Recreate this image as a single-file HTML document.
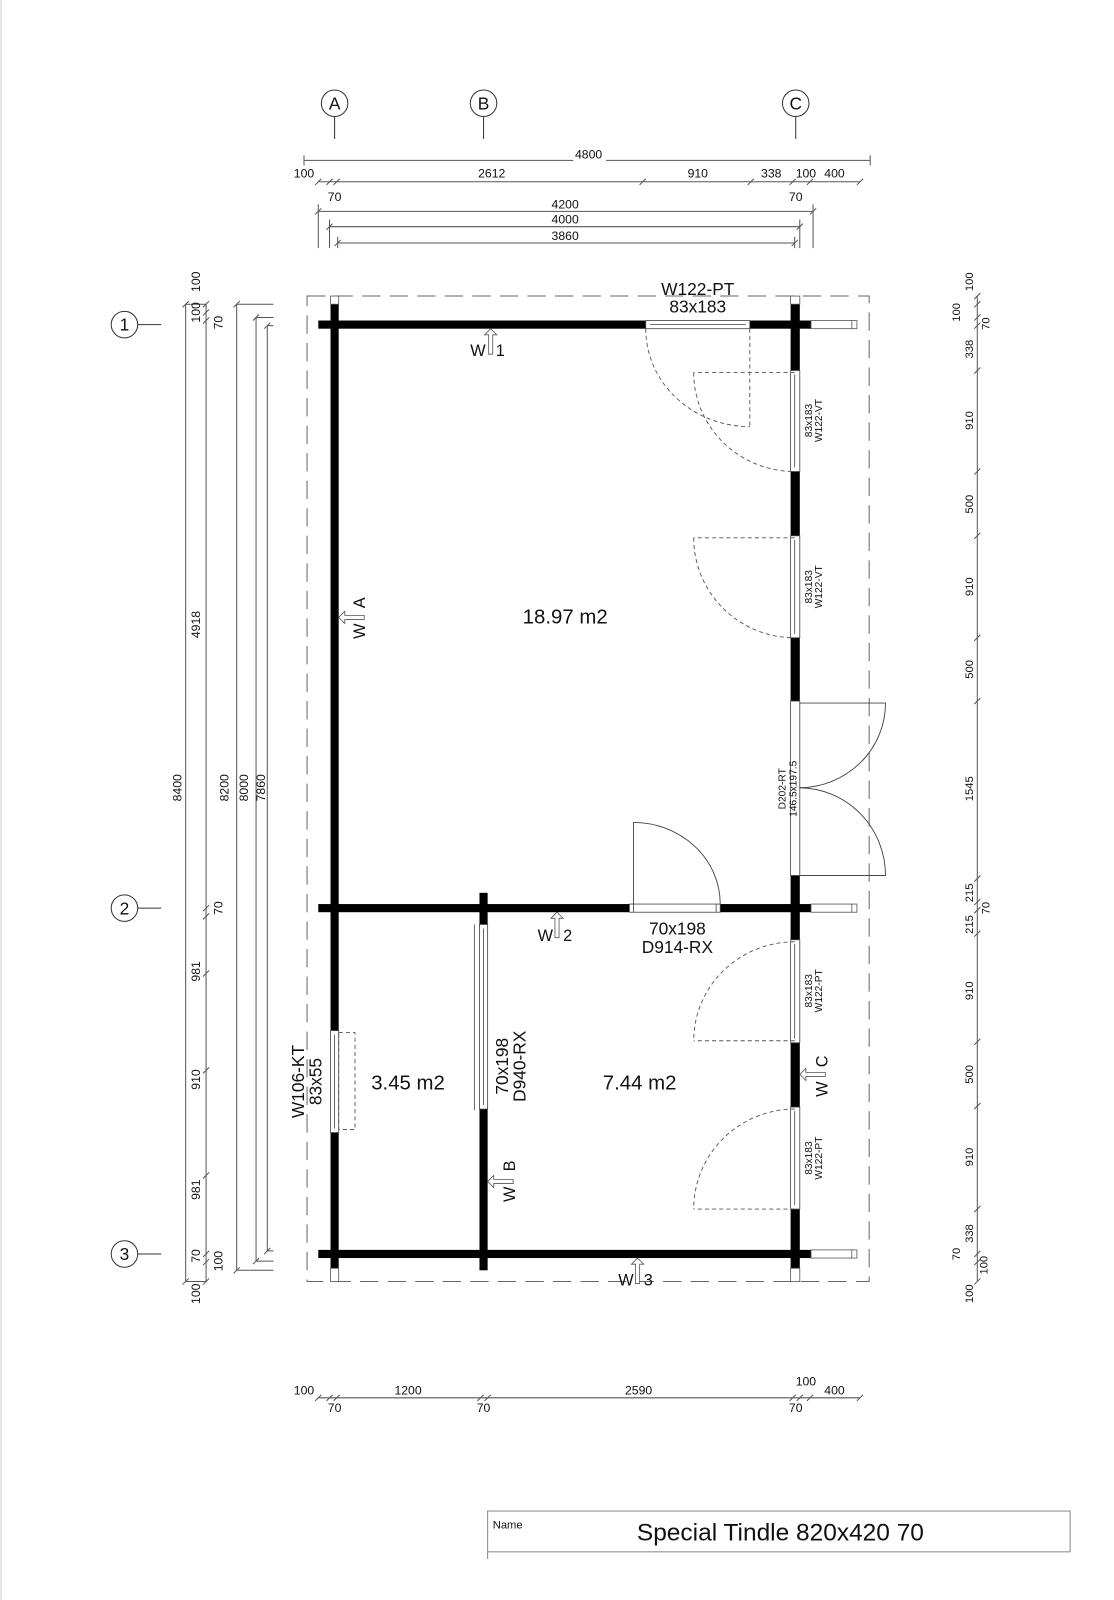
<!DOCTYPE html>
<html><head><meta charset="utf-8"><style>
html,body{margin:0;padding:0;background:#fff;}
svg{display:block;}
text{font-family:"Liberation Sans Narrow","Liberation Sans",sans-serif;fill:#111;}
</style></head><body>
<svg width="1114" height="1600" viewBox="0 0 1092 1568" xmlns="http://www.w3.org/2000/svg">
<rect x="0" y="0" width="1092" height="1568" fill="#fff"/>
<line x1="1" y1="0" x2="1" y2="1568" stroke="#ccc" stroke-width="1"/>

<g stroke="#333" stroke-width="1" fill="#fff">
<circle cx="328" cy="101" r="13"/><line x1="328" y1="114" x2="328" y2="136"/>
<circle cx="474" cy="101" r="13"/><line x1="474" y1="114" x2="474" y2="136"/>
<circle cx="780" cy="101" r="13"/><line x1="780" y1="114" x2="780" y2="136"/>
<circle cx="122" cy="318" r="13"/><line x1="135" y1="318" x2="158" y2="318"/>
<circle cx="122" cy="890" r="13"/><line x1="135" y1="890" x2="158" y2="890"/>
<circle cx="122" cy="1229" r="13"/><line x1="135" y1="1229" x2="158" y2="1229"/>
</g>
<g font-size="17" text-anchor="middle">
<text x="328" y="107">A</text><text x="474" y="107">B</text><text x="780" y="107">C</text>
<text x="122" y="324">1</text><text x="122" y="896">2</text><text x="122" y="1235">3</text>
</g>

<g stroke="#555" stroke-width="1">
<line x1="298" y1="157" x2="853" y2="157"/>
<line x1="298" y1="152" x2="298" y2="162"/><line x1="853" y1="152" x2="853" y2="162"/>
<line x1="312" y1="178" x2="843" y2="178"/>
<line x1="312" y1="200" x2="312" y2="243"/>
<line x1="323" y1="215" x2="323" y2="243"/>
<line x1="331" y1="232" x2="331" y2="243"/>
<line x1="797" y1="200" x2="797" y2="243"/>
<line x1="784" y1="215" x2="784" y2="243"/>
<line x1="779" y1="232" x2="779" y2="243"/>
<line x1="312" y1="207" x2="797" y2="207"/>
<line x1="323" y1="222" x2="784" y2="222"/>
<line x1="331" y1="238" x2="779" y2="238"/>
</g>
<g stroke="#555" stroke-width="1">
<path d="M309 181l6-6M320 181l6-6M327 181l6-6M627 181l6-6M733 181l6-6M774 181l6-6M791 181l6-6M840 181l6-6M309 210l6-6M794 210l6-6M320 225l6-6M781 225l6-6M328 241l6-6M776 241l6-6"/>
</g>
<g font-size="12" text-anchor="middle">
<rect x="562" y="146" width="32" height="12" fill="#fff"/>
<text x="577" y="155">4800</text>
<text x="298" y="174">100</text>
<text x="482" y="174">2612</text>
<text x="684" y="174">910</text>
<text x="756" y="174">338</text>
<text x="790" y="174">100</text>
<text x="818" y="174">400</text>
<text x="328" y="197">70</text>
<text x="780" y="197">70</text>
<text x="554" y="204">4200</text>
<text x="554" y="219">4000</text>
<text x="554" y="235">3860</text>
</g>

<g stroke="#555" stroke-width="1">
<line x1="182" y1="298" x2="182" y2="1256"/>
<line x1="202" y1="298" x2="202" y2="1256"/>
<line x1="182" y1="298" x2="202" y2="298"/>
<line x1="182" y1="1256" x2="202" y2="1256"/>
<line x1="232" y1="298" x2="268" y2="298"/><line x1="232" y1="298" x2="232" y2="1245"/><line x1="232" y1="1245" x2="268" y2="1245"/>
<line x1="251" y1="311" x2="268" y2="311"/><line x1="251" y1="311" x2="251" y2="1236"/><line x1="251" y1="1236" x2="268" y2="1236"/>
<line x1="262" y1="319" x2="268" y2="319"/><line x1="262" y1="319" x2="262" y2="1226"/><line x1="262" y1="1226" x2="268" y2="1226"/>
<path d="M179 301l6-6M199 301l6-6M199 309l6-6M199 317l6-6M199 893l6-6M199 901l6-6M199 1232l6-6M199 1240l6-6M199 1259l6-6M179 1259l6-6M229 301l6-6M248 314l6-6M259 322l6-6M229 1248l6-6M248 1239l6-6M259 1229l6-6M199 1052l6-6M199 1155l6-6M199 957l6-6"/>
</g>
<g font-size="12" text-anchor="middle">
<text transform="translate(178,772) rotate(-90)">8400</text>
<text transform="translate(196,276) rotate(-90)">100</text>
<text transform="translate(196,306) rotate(-90)">100</text>
<text transform="translate(218,316) rotate(-90)">70</text>
<text transform="translate(196,612) rotate(-90)">4918</text>
<text transform="translate(218,890) rotate(-90)">70</text>
<text transform="translate(196,952) rotate(-90)">981</text>
<text transform="translate(196,1058) rotate(-90)">910</text>
<text transform="translate(196,1166) rotate(-90)">981</text>
<text transform="translate(196,1231) rotate(-90)">70</text>
<text transform="translate(218,1236) rotate(-90)">100</text>
<text transform="translate(196,1268) rotate(-90)">100</text>
<text transform="translate(224,772) rotate(-90)">8200</text>
<text transform="translate(243,772) rotate(-90)">8000</text>
<text transform="translate(260,772) rotate(-90)">7860</text>
</g>

<g stroke="#555" stroke-width="1">
<line x1="958" y1="290" x2="958" y2="1256"/>
<path d="M955 293l6-6M955 301l6-6M955 314l6-6M955 322l6-6M955 366l6-6M955 465l6-6M955 528l6-6M955 628l6-6M955 690l6-6M955 864l6-6M955 887l6-6M955 895l6-6M955 918l6-6M955 1024l6-6M955 1087l6-6M955 1188l6-6M955 1232l6-6M955 1240l6-6M955 1259l6-6"/>
</g>
<g font-size="11" text-anchor="middle">
<text transform="translate(954,276) rotate(-90)">100</text>
<text transform="translate(941,306) rotate(-90)">100</text>
<text transform="translate(970,317) rotate(-90)">70</text>
<text transform="translate(954,342) rotate(-90)">338</text>
<text transform="translate(954,412) rotate(-90)">910</text>
<text transform="translate(954,494) rotate(-90)">500</text>
<text transform="translate(954,575) rotate(-90)">910</text>
<text transform="translate(954,656) rotate(-90)">500</text>
<text transform="translate(954,773) rotate(-90)">1545</text>
<text transform="translate(954,875) rotate(-90)">215</text>
<text transform="translate(970,890) rotate(-90)">70</text>
<text transform="translate(954,906) rotate(-90)">215</text>
<text transform="translate(954,971) rotate(-90)">910</text>
<text transform="translate(954,1053) rotate(-90)">500</text>
<text transform="translate(954,1134) rotate(-90)">910</text>
<text transform="translate(954,1209) rotate(-90)">338</text>
<text transform="translate(941,1229) rotate(-90)">70</text>
<text transform="translate(968,1240) rotate(-90)">100</text>
<text transform="translate(954,1268) rotate(-90)">100</text>
</g>

<g stroke="#555" stroke-width="1">
<line x1="312" y1="1370" x2="843" y2="1370"/>
<path d="M309 1373l6-6M320 1373l6-6M327 1373l6-6M468 1373l6-6M475 1373l6-6M774 1373l6-6M781 1373l6-6M791 1373l6-6M840 1373l6-6"/>
</g>
<g font-size="12" text-anchor="middle">
<text x="298" y="1367">100</text>
<text x="328" y="1384">70</text>
<text x="400" y="1367">1200</text>
<text x="474" y="1384">70</text>
<text x="626" y="1367">2590</text>
<text x="780" y="1384">70</text>
<text x="790" y="1358">100</text>
<text x="818" y="1367">400</text>
</g>

<rect x="301" y="290" width="551" height="966" fill="none" stroke="#666" stroke-width="1" stroke-dasharray="18,9"/>

<g fill="#000">
<rect x="312" y="314" width="483" height="8"/>
<rect x="312" y="886" width="483" height="8"/>
<rect x="312" y="1225" width="483" height="8"/>
<rect x="324" y="298" width="8" height="945"/>
<rect x="775" y="298" width="9" height="945"/>
<rect x="470" y="875" width="8" height="370"/>
</g>
<g fill="#fff" stroke="#555" stroke-width="0.8">
<rect x="324" y="290" width="8" height="8"/>
<rect x="775" y="290" width="9" height="8"/>
<rect x="324" y="1243" width="8" height="13"/>
<rect x="775" y="1243" width="9" height="13"/>
<rect x="795" y="314" width="45" height="8"/><line x1="835" y1="314" x2="835" y2="322"/>
<rect x="795" y="886" width="45" height="8"/><line x1="835" y1="886" x2="835" y2="894"/>
<rect x="795" y="1225" width="45" height="8"/><line x1="835" y1="1225" x2="835" y2="1233"/>
</g>
<g fill="#fff" stroke="#444" stroke-width="0.8">
<rect x="633" y="314" width="102" height="8"/><line x1="637" y1="318" x2="731" y2="318"/>
<rect x="775" y="363" width="9" height="99"/><line x1="779" y1="367" x2="779" y2="458"/>
<rect x="775" y="525" width="9" height="100"/><line x1="779" y1="529" x2="779" y2="621"/>
<rect x="775" y="687" width="9" height="171"/>
<rect x="775" y="921" width="9" height="101"/><line x1="779" y1="925" x2="779" y2="1018"/>
<rect x="775" y="1085" width="9" height="100"/><line x1="779" y1="1089" x2="779" y2="1181"/>
<rect x="617" y="886" width="89" height="8"/><line x1="621" y1="886" x2="621" y2="894"/><line x1="702" y1="886" x2="702" y2="894"/>
<rect x="470" y="906" width="8" height="181"/><line x1="474" y1="910" x2="474" y2="1083"/>
<rect x="324" y="1010" width="8" height="100"/><line x1="328" y1="1014" x2="328" y2="1106"/>
</g>
<line x1="465" y1="906" x2="465" y2="1088" stroke="#444" stroke-width="0.8"/>

<g fill="none" stroke="#555" stroke-width="0.9" stroke-dasharray="4,3">
<path d="M735 322 V418 M633 322 A102 96 0 0 0 735 418"/>
<path d="M779 365 H680 M680 365 A99 97 0 0 0 779 462"/>
<path d="M779 527 H680 M680 527 A99 98 0 0 0 779 625"/>
<path d="M779 1020 H680 M779 923 A99 97 0 0 0 680 1020"/>
<path d="M779 1185 H680 M779 1087 A99 98 0 0 0 680 1185"/>
<rect x="332" y="1012" width="16" height="95"/>
</g>
<g fill="none" stroke="#444" stroke-width="0.9">
<path d="M784 689 H868 A85 83 0 0 1 784 772"/>
<path d="M784 858 H868 A85 86 0 0 0 784 772"/>
<path d="M621 886 V806 A85 80 0 0 1 706 886"/>
</g>

<g font-size="16">
<text x="461" y="349">W</text><text x="486" y="349">1</text>
<text x="527" y="922">W</text><text x="552" y="922">2</text>
<text x="606" y="1260">W</text><text x="631" y="1260">3</text>
</g>
<g fill="#fff" stroke="#555" stroke-width="0.8">
<path d="M481 322 l-6 6 h4 v19 h4 v-19 h4 z"/>
<path d="M546 894 l-6 6 h4 v19 h4 v-19 h4 z"/>
<path d="M625 1233 l-6 6 h4 v19 h4 v-19 h4 z"/>
<path d="M332 605 l6 -6 v4 h19 v4 h-19 v4 z"/>
<path d="M478 1158 l6 -6 v4 h19 v4 h-19 v4 z"/>
<path d="M784 1053 l6 -6 v4 h19 v4 h-19 v4 z"/>
</g>
<g font-size="16">
<text transform="translate(358,626) rotate(-90)">W</text><text transform="translate(358,596) rotate(-90)">A</text>
<text transform="translate(505,1178) rotate(-90)">W</text><text transform="translate(505,1148) rotate(-90)">B</text>
<text transform="translate(811,1075) rotate(-90)">W</text><text transform="translate(811,1046) rotate(-90)">C</text>
</g>

<g font-size="17" text-anchor="middle">
<text x="684" y="289">W122-PT</text>
<text x="684" y="306">83x183</text>
<text x="664" y="916">70x198</text>
<text x="664" y="934">D914-RX</text>
<text transform="translate(298,1060) rotate(-90)">W106-KT</text>
<text transform="translate(315,1060) rotate(-90)">83x55</text>
<text transform="translate(498,1045) rotate(-90)">70x198</text>
<text transform="translate(515,1045) rotate(-90)">D940-RX</text>
</g>
<g font-size="20" text-anchor="middle">
<text x="554" y="611">18.97 m2</text>
<text x="400" y="1068">3.45 m2</text>
<text x="627" y="1068">7.44 m2</text>
</g>
<g font-size="10" text-anchor="middle">
<text transform="translate(796,412) rotate(-90)">83x183</text>
<text transform="translate(806,412) rotate(-90)">W122-VT</text>
<text transform="translate(796,575) rotate(-90)">83x183</text>
<text transform="translate(806,575) rotate(-90)">W122-VT</text>
<text transform="translate(770,773) rotate(-90)">D202-RT</text>
<text transform="translate(781,773) rotate(-90)">146.5x197.5</text>
<text transform="translate(796,971) rotate(-90)">83x183</text>
<text transform="translate(806,971) rotate(-90)">W122-PT</text>
<text transform="translate(796,1135) rotate(-90)">83x183</text>
<text transform="translate(806,1135) rotate(-90)">W122-PT</text>
</g>

<rect x="478" y="1481" width="571" height="40" fill="none" stroke="#888" stroke-width="1"/>
<line x1="478" y1="1521" x2="478" y2="1528" stroke="#888" stroke-width="1"/>
<text x="483" y="1498" font-size="11" style="font-family:'Liberation Sans',sans-serif">Name</text>
<text x="765" y="1510" font-size="24" text-anchor="middle" style="font-family:'Liberation Sans',sans-serif">Special Tindle 820x420 70</text>
</svg>
</body></html>
